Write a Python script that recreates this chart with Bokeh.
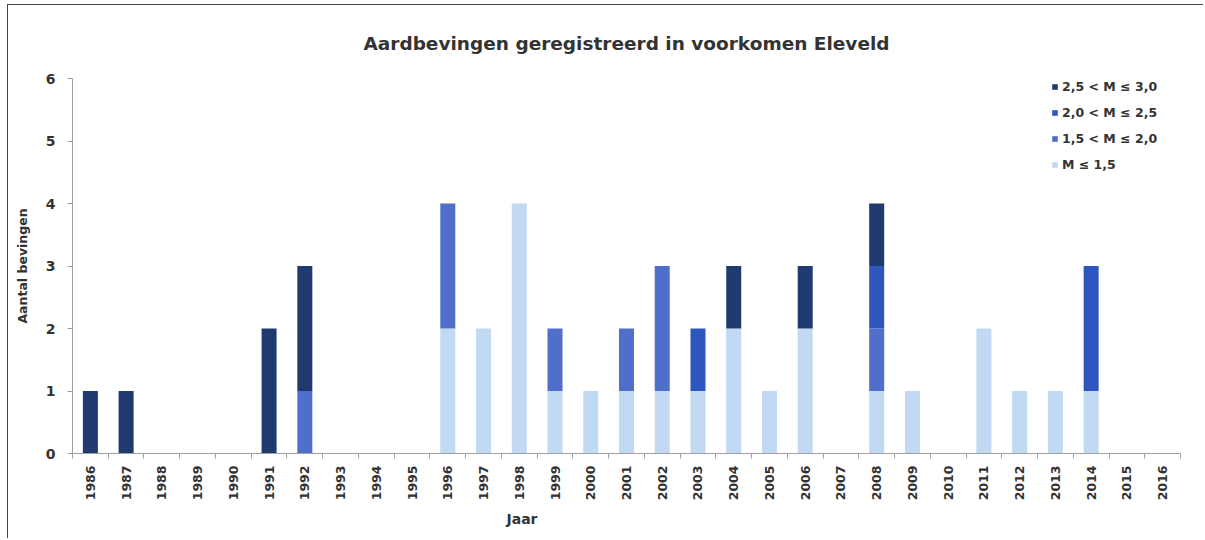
import numpy as np
from bokeh.plotting import figure
from bokeh.models import ColumnDataSource, Legend, LegendItem, FixedTicker, Title, Range1d
from bokeh.embed import file_html
from bokeh.resources import INLINE

years = list(range(1986, 2017))
m_le_15 = [0, 0, 0, 0, 0, 0, 0, 0, 0, 0, 2, 2, 4, 1, 1, 1, 1, 1, 2, 1, 2, 0, 1, 1, 0, 2, 1, 1, 1, 0, 0]
m_15_20 = [0, 0, 0, 0, 0, 0, 1, 0, 0, 0, 2, 0, 0, 1, 0, 1, 2, 0, 0, 0, 0, 0, 1, 0, 0, 0, 0, 0, 0, 0, 0]
m_20_25 = [0, 0, 0, 0, 0, 0, 0, 0, 0, 0, 0, 0, 0, 0, 0, 0, 0, 1, 0, 0, 0, 0, 1, 0, 0, 0, 0, 0, 2, 0, 0]
m_25_30 = [1, 1, 0, 0, 0, 2, 2, 0, 0, 0, 0, 0, 0, 0, 0, 0, 0, 0, 1, 0, 1, 0, 1, 0, 0, 0, 0, 0, 0, 0, 0]
series_names = ["M \u2264 1,5", "1,5 < M \u2264 2,0", "2,0 < M \u2264 2,5", "2,5 < M \u2264 3,0"]
series_keys = ["m_le_15", "m_15_20", "m_20_25", "m_25_30"]
colors = ["#C2D9F4", "#4F6FCB", "#2F56BE", "#1F3A6E"]

title_text = "Aardbevingen geregistreerd in voorkomen Eleveld"
y_title = "Aantal bevingen"
x_title = "Jaar"

FONT = "DejaVu Sans"
TXT = "#333333"

source = ColumnDataSource(dict(year=years, m_le_15=m_le_15, m_15_20=m_15_20,
                               m_20_25=m_20_25, m_25_30=m_25_30))

p = figure(width=1196, height=534, output_backend="svg", toolbar_location=None,
           x_range=Range1d(years[0] - 0.5, years[-1] + 0.5), y_range=Range1d(0, 6),
           min_border_left=64, min_border_right=24, min_border_top=73, min_border_bottom=86)
p.styles = {"margin-left": "7px", "margin-top": "4px",
            "border-left": "1px solid #444", "border-top": "1px solid #444"}

renderers = p.vbar_stack(series_keys, x="year", width=0.42, color=colors, line_color=None,
                         source=source)

p.title.text = title_text
p.title.align = "center"
p.title.text_font = FONT
p.title.text_font_size = "18.5px"
p.title.text_font_style = "bold"
p.title.text_color = TXT
p.title.standoff = 49

p.xgrid.visible = False
p.ygrid.visible = False
p.outline_line_color = None
p.background_fill_color = "white"

# y axis
p.yaxis.ticker = FixedTicker(ticks=[0, 1, 2, 3, 4, 5, 6])
p.yaxis.axis_line_color = "#A0A0A0"
p.yaxis.major_tick_line_color = "#A0A0A0"
p.yaxis.major_tick_out = 5
p.yaxis.major_tick_in = 0
p.yaxis.minor_tick_line_color = None
p.yaxis.major_label_text_font = FONT
p.yaxis.major_label_text_font_style = "bold"
p.yaxis.major_label_text_font_size = "14px"
p.yaxis.major_label_text_color = TXT
p.yaxis.major_label_standoff = 12
p.yaxis.axis_label = y_title
p.yaxis.axis_label_text_font = FONT
p.yaxis.axis_label_text_font_style = "bold"
p.yaxis.axis_label_text_font_size = "12.5px"
p.yaxis.axis_label_text_color = TXT
p.yaxis.axis_label_standoff = 13

# x axis
p.xaxis.ticker = FixedTicker(ticks=years, minor_ticks=[y - 0.5 for y in years] + [years[-1] + 0.5])
p.xaxis.axis_line_color = "#A0A0A0"
p.xaxis.major_tick_line_color = None
p.xaxis.major_tick_out = 0
p.xaxis.major_tick_in = 0
p.xaxis.minor_tick_line_color = "#A0A0A0"
p.xaxis.minor_tick_out = 5
p.xaxis.minor_tick_in = 0
p.xaxis.major_label_orientation = np.pi / 2
p.xaxis.major_label_text_font = FONT
p.xaxis.major_label_text_font_style = "bold"
p.xaxis.major_label_text_font_size = "12.5px"
p.xaxis.major_label_text_color = TXT
p.xaxis.major_label_standoff = 7

x_lbl = Title(text=x_title, align="left", offset=434, standoff=10, text_font=FONT,
              text_font_style="bold", text_font_size="14px", text_color=TXT)
p.add_layout(x_lbl, "below")

items = [LegendItem(label=series_names[i], renderers=[renderers[i]]) for i in range(3, -1, -1)]
legend = Legend(items=items, location=(979, 281), orientation="vertical",
                glyph_width=7, glyph_height=7, label_height=15, spacing=11, padding=0, margin=0,
                label_standoff=4, label_text_font=FONT, label_text_font_style="bold",
                label_text_font_size="12.5px", label_text_color=TXT,
                border_line_color=None, background_fill_alpha=0)
p.add_layout(legend)

open("out.html", "w").write(file_html(p, INLINE))
